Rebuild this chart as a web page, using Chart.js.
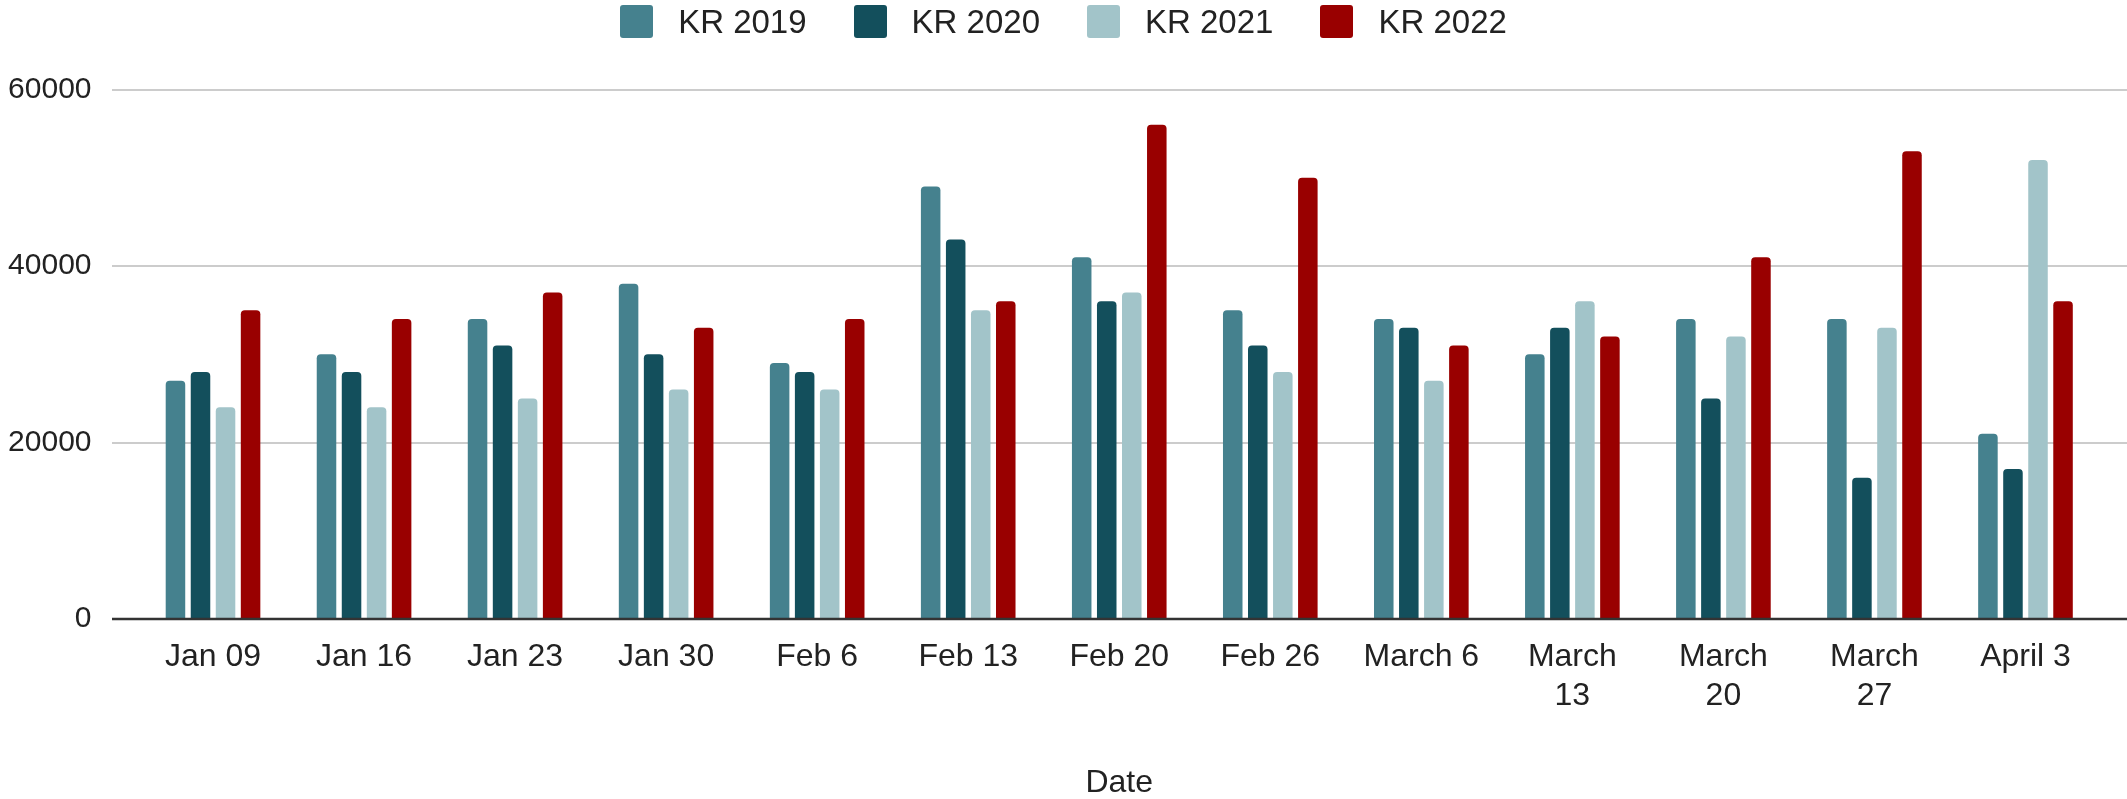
<!DOCTYPE html>
<html>
<head>
<meta charset="utf-8">
<title>KR by date</title>
<script src="https://cdn.jsdelivr.net/npm/chart.js@4.4.1/dist/chart.umd.min.js"></script>
<style>
  html, body { margin: 0; padding: 0; background: #fff; overflow: hidden; }
  #wrap { position: relative; width: 100vw; height: 100vh; }
  #legend {
    position: absolute; top: 5px; left: 0; right: 0; height: 33px;
    display: flex; justify-content: center; align-items: center; gap: 47px;
    font-family: "Liberation Sans", Arial, sans-serif; font-size: 33px; color: #222;
  }
  #legend .item { display: flex; align-items: center; }
  #legend .box { width: 33px; height: 33px; border-radius: 3px; margin-right: 25px; }
</style>
</head>
<body>
<div id="wrap">
  <canvas id="krChart"></canvas>
  <div id="legend"></div>
</div>
<script>
const dates = ['Jan 09', 'Jan 16', 'Jan 23', 'Jan 30', 'Feb 6', 'Feb 13', 'Feb 20',
  'Feb 26', 'March 6', ['March', '13'], ['March', '20'], ['March', '27'], 'April 3']

const kr2019 = [27000, 30000, 34000, 38000, 29000, 49000, 41000, 35000, 34000, 30000, 34000, 34000, 21000]
const kr2020 = [28000, 28000, 31000, 30000, 28000, 43000, 36000, 31000, 33000, 33000, 25000, 16000, 17000]
const kr2021 = [24000, 24000, 25000, 26000, 26000, 35000, 37000, 28000, 27000, 36000, 32000, 33000, 52000]
const kr2022 = [35000, 34000, 37000, 33000, 34000, 36000, 56000, 50000, 31000, 32000, 41000, 53000, 36000]

const yTicks = [0, 20000, 40000, 60000]

const seriesColors = {
  'KR 2019': '#45818e',
  'KR 2020': '#134f5c',
  'KR 2021': '#a2c4c9',
  'KR 2022': '#990000'
}

const fontFamily = '"Liberation Sans", Arial, sans-serif'

function makeDataset(label, values) {
  return {
    label: label,
    data: values,
    backgroundColor: seriesColors[label],
    borderWidth: 0,
    borderRadius: { topLeft: 4, topRight: 4, bottomLeft: 0, bottomRight: 0 },
    borderSkipped: 'start',
    categoryPercentage: 0.663,
    barPercentage: 0.78
  }
}

// horizontal grid lines run wider than the bar area, like the sheets chart
const gridLeft = 112
const wideGrid = {
  id: 'wideGrid',
  beforeDatasetsDraw(chart) {
    const ctx = chart.ctx
    const y = chart.scales.y
    ctx.save()
    ctx.strokeStyle = '#cccccc'
    ctx.lineWidth = 2
    y.ticks.forEach(t => {
      if (t.value === 0) return
      const py = Math.round(y.getPixelForValue(t.value))
      ctx.beginPath()
      ctx.moveTo(gridLeft, py)
      ctx.lineTo(chart.width, py)
      ctx.stroke()
    })
    ctx.restore()
  },
  afterDatasetsDraw(chart) {
    const ctx = chart.ctx
    const py = Math.round(chart.scales.y.getPixelForValue(0))
    ctx.save()
    ctx.strokeStyle = '#333333'
    ctx.lineWidth = 2.5
    ctx.beginPath()
    ctx.moveTo(gridLeft, py)
    ctx.lineTo(chart.width, py)
    ctx.stroke()
    ctx.restore()
  }
}

const chart = new Chart(document.getElementById('krChart'), {
  type: 'bar',
  data: {
    labels: dates,
    datasets: [
      makeDataset('KR 2019', kr2019),
      makeDataset('KR 2020', kr2020),
      makeDataset('KR 2021', kr2021),
      makeDataset('KR 2022', kr2022)
    ]
  },
  options: {
    animation: false,
    responsive: true,
    maintainAspectRatio: false,
    layout: {
      padding: { top: 89.5, right: 26, bottom: 0, left: 0 }
    },
    plugins: {
      legend: { display: false },
      tooltip: { enabled: false }
    },
    scales: {
      x: {
        grid: { display: false },
        border: { display: false },
        ticks: {
          color: '#222',
          autoSkip: false,
          maxRotation: 0,
          padding: 11,
          font: { family: fontFamily, size: 32, lineHeight: 1.22 }
        },
        title: {
          display: true,
          text: 'Date',
          color: '#222',
          padding: { top: 0, bottom: 0 },
          font: { family: fontFamily, size: 32, lineHeight: 1.0 }
        },
        afterFit(scale) { scale.height = 180 }
      },
      y: {
        min: 0,
        max: 60000,
        afterBuildTicks(scale) { scale.ticks = yTicks.map(v => ({ value: v })) },
        grid: { display: false },
        border: { display: false },
        ticks: {
          color: '#222',
          padding: 38,
          font: { family: fontFamily, size: 30 },
          callback: v => String(v)
        },
        afterFit(scale) { scale.width = 137.5 }
      }
    }
  },
  plugins: [wideGrid]
})

// html legend built from the chart's datasets
const legendEl = document.getElementById('legend')
chart.data.datasets.forEach(ds => {
  const item = document.createElement('div')
  item.className = 'item'
  const box = document.createElement('span')
  box.className = 'box'
  box.style.background = ds.backgroundColor
  const txt = document.createElement('span')
  txt.textContent = ds.label
  item.appendChild(box)
  item.appendChild(txt)
  legendEl.appendChild(item)
})
</script>
</body>
</html>
